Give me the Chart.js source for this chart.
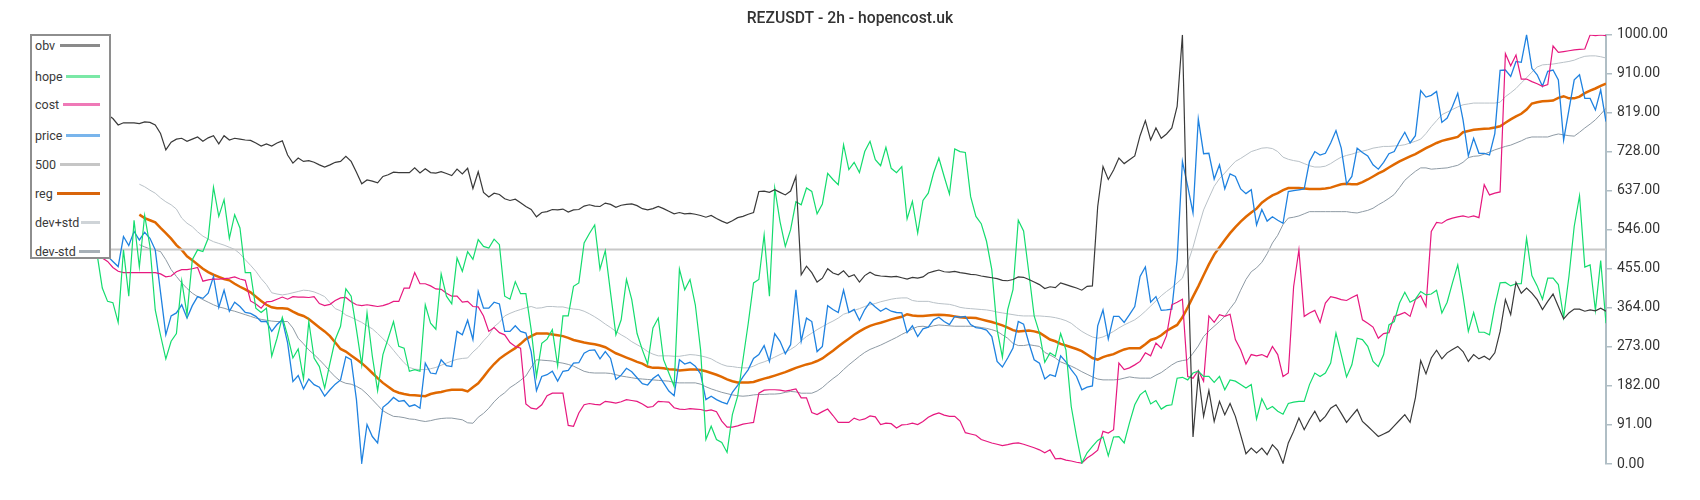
<!DOCTYPE html>
<html>
<head>
<meta charset="utf-8">
<title>REZUSDT - 2h - hopencost.uk</title>
<script src="https://cdn.jsdelivr.net/npm/chart.js@4.4.0/dist/chart.umd.min.js"></script>
<style>
  html, body { margin: 0; padding: 0; background: #fff; }
  #wrap { position: relative; width: 1700px; height: 500px; }
  #legend {
    position: absolute; left: 30px; top: 34px; width: 77px; height: 221px;
    border: 2px solid #8e8e8e; background: #fff;
    font: 12.5px Roboto, "Noto Sans", sans-serif; color: #3a3a3a;
  }
  #legend .row { position: absolute; left: 3px; right: 9px; height: 16px; display: flex; align-items: center; }
  #legend .swatch { margin-left: auto; height: 3px; }
</style>
</head>
<body>
<div id="wrap">
  <canvas id="chart" width="1700" height="500"></canvas>
  <div id="legend"></div>
</div>
<script>
const titleText = "REZUSDT - 2h - hopencost.uk";
const seriesNames = ["obv", "hope", "cost", "price", "500", "reg", "dev+std", "dev-std"];
const pointCount = 286;
const bandStart = 8; // reg and the two dev lines begin later
const levelValue = 500;
const yTickValues = [0, 91, 182, 273, 364, 455, 546, 637, 728, 819, 910, 1000];

const obvValues = [830, 825, 814, 805, 790, 795, 795, 795, 793, 797,
  796, 790, 770, 732, 750, 757, 759, 752, 757, 762,
  752, 760, 765, 746, 765, 755, 759, 757, 755, 754,
  748, 741, 746, 741, 748, 753, 720, 701, 713, 705,
  707, 703, 697, 692, 697, 703, 705, 717, 705, 680,
  653, 662, 659, 655, 670, 674, 680, 679, 679, 679,
  690, 678, 688, 679, 678, 681, 677, 672, 687, 676,
  689, 642, 681, 633, 622, 631, 628, 618, 614, 617,
  609, 600, 593, 576, 586, 588, 593, 592, 594, 587,
  592, 593, 601, 604, 601, 600, 608, 605, 598, 603,
  605, 606, 602, 595, 592, 595, 600, 595, 589, 583,
  586, 583, 584, 582, 579, 575, 579, 572, 566, 561,
  567, 574, 577, 582, 586, 635, 636, 633, 639, 633,
  627, 636, 670, 441, 461, 446, 424, 433, 455, 445,
  441, 450, 436, 441, 424, 439, 447, 440, 438, 437,
  436, 437, 434, 431, 435, 433, 436, 445, 449, 452,
  448, 447, 449, 446, 444, 442, 441, 438, 436, 434,
  432, 428, 427, 430, 436, 435, 430, 424, 418, 409,
  413, 411, 422, 418, 414, 410, 405, 414, 415, 600,
  693, 663, 685, 713, 700, 709, 718, 765, 800, 755,
  783, 759, 769, 783, 833, 1000, 480, 63, 208, 111,
  171, 99, 146, 115, 141, 111, 68, 24, 37, 26,
  37, 22, 45, 32, 2, 49, 76, 107, 80, 103,
  123, 99, 111, 130, 138, 118, 97, 112, 127, 99,
  88, 76, 64, 70, 76, 89, 102, 115, 97, 154,
  241, 210, 247, 265, 245, 259, 267, 274, 262, 239,
  255, 245, 251, 243, 259, 309, 383, 348, 423, 398,
  410, 398, 383, 360, 379, 396, 367, 338, 352, 361,
  361, 356, 359, 357, 363, 356];

const hopeValues = [490, 410, 379, 376, 330, 499, 391, 568, 459, 579,
  507, 359, 300, 245, 286, 304, 427, 348, 476, 499,
  495, 526, 645, 577, 616, 526, 581, 550, 446, 446,
  363, 353, 363, 251, 293, 342, 299, 247, 268, 198,
  332, 247, 227, 177, 235, 290, 321, 408, 391, 313,
  231, 352, 251, 171, 255, 293, 332, 274, 270, 216,
  220, 216, 371, 328, 314, 443, 391, 373, 480, 449,
  495, 477, 523, 507, 503, 524, 511, 391, 384, 425,
  397, 397, 313, 204, 281, 291, 313, 229, 345, 345,
  414, 422, 515, 537, 557, 454, 497, 398, 301, 336,
  430, 383, 304, 266, 233, 317, 340, 243, 212, 181,
  454, 406, 430, 371, 266, 57, 88, 57, 50, 27,
  115, 158, 243, 328, 422, 430, 534, 391, 643, 565,
  507, 546, 611, 604, 643, 635, 583, 606, 677, 663,
  651, 744, 686, 703, 679, 728, 752, 709, 695, 738,
  689, 679, 693, 571, 612, 538, 614, 631, 678, 713,
  670, 629, 734, 728, 726, 623, 577, 560, 519, 453,
  313, 249, 360, 406, 568, 543, 445, 345, 305, 237,
  259, 251, 304, 266, 134, 64, 2, 26, 41, 55,
  63, 19, 63, 64, 49, 96, 138, 161, 171, 140,
  148, 128, 136, 138, 200, 202, 196, 212, 216, 204,
  204, 190, 204, 173, 196, 193, 185, 177, 185, 105,
  152, 127, 134, 123, 116, 141, 144, 146, 146, 185,
  212, 204, 212, 235, 305, 255, 203, 231, 293, 290,
  274, 239, 227, 255, 324, 332, 375, 400, 377, 384,
  402, 394, 396, 405, 352, 377, 422, 464, 391, 309,
  353, 307, 307, 301, 368, 422, 423, 415, 420, 420,
  526, 439, 415, 384, 433, 433, 418, 342, 437, 554,
  625, 459, 464, 358, 474, 328];

const costValues = [495, 480, 472, 458, 449, 446, 446, 446, 446, 446,
  446, 446, 443, 436, 438, 448, 453, 453, 455, 458,
  426, 429, 431, 431, 432, 433, 436, 431, 428, 380,
  373, 363, 378, 379, 384, 389, 384, 390, 389, 389,
  388, 390, 374, 369, 372, 381, 387, 388, 378, 371,
  369, 371, 369, 367, 369, 373, 379, 379, 410, 410,
  446, 420, 420, 415, 408, 407, 398, 391, 391, 377,
  379, 367, 366, 345, 309, 318, 306, 301, 283, 274,
  270, 140, 130, 128, 138, 159, 165, 165, 165, 90,
  88, 119, 138, 141, 139, 138, 146, 144, 142, 145,
  150, 148, 146, 140, 132, 134, 146, 145, 144, 131,
  128, 127, 129, 128, 127, 124, 126, 122, 100, 86,
  86, 89, 93, 95, 97, 165, 172, 173, 173, 172,
  170, 172, 175, 154, 154, 120, 115, 122, 128, 113,
  97, 97, 97, 107, 102, 105, 112, 110, 92, 95,
  94, 84, 91, 92, 95, 92, 99, 109, 115, 119,
  114, 111, 111, 100, 73, 70, 67, 57, 53, 49,
  46, 43, 45, 48, 49, 46, 42, 38, 33, 26,
  33, 12, 13, 9, 7, 4, 2, 14, 22, 32,
  76, 72, 80, 235, 220, 224, 231, 239, 259, 252,
  282, 270, 299, 371, 377, 384, 204, 200, 218, 193,
  345, 330, 348, 344, 349, 290, 266, 233, 255, 252,
  255, 249, 274, 255, 204, 212, 413, 499, 344, 352,
  358, 330, 375, 390, 387, 383, 381, 388, 394, 336,
  328, 319, 293, 304, 306, 344, 348, 353, 344, 383,
  392, 367, 542, 563, 561, 569, 573, 576, 578, 575,
  578, 574, 651, 627, 631, 634, 956, 928, 953, 897,
  897, 891, 886, 880, 884, 974, 959, 961, 963, 965,
  966, 967, 1000, 998, 1000, 998];

const priceValues = [500, 495, 484, 472, 460, 530, 509, 542, 522, 540,
  526, 499, 400, 301, 345, 352, 371, 340, 369, 390,
  386, 398, 437, 365, 405, 356, 377, 367, 353, 351,
  344, 332, 332, 309, 325, 336, 282, 192, 206, 175,
  198, 185, 179, 158, 173, 186, 196, 250, 243, 150,
  3, 92, 64, 49, 132, 142, 155, 146, 148, 134,
  138, 130, 235, 212, 210, 243, 229, 227, 309, 301,
  335, 290, 402, 363, 363, 377, 373, 309, 309, 322,
  309, 305, 262, 171, 204, 208, 216, 193, 216, 218,
  235, 236, 258, 265, 266, 245, 262, 246, 197, 207,
  223, 215, 201, 187, 184, 199, 208, 189, 170, 159,
  243, 233, 237, 228, 210, 150, 158, 150, 144, 140,
  167, 183, 203, 220, 246, 255, 276, 239, 304, 286,
  257, 278, 406, 286, 340, 332, 262, 274, 369, 360,
  353, 405, 353, 360, 335, 360, 377, 366, 356, 363,
  356, 353, 352, 306, 322, 297, 315, 319, 336, 342,
  332, 325, 344, 342, 344, 325, 318, 316, 312, 297,
  239, 226, 247, 270, 332, 326, 282, 243, 235, 198,
  208, 204, 252, 238, 220, 204, 173, 179, 182, 322,
  359, 291, 344, 344, 330, 348, 367, 437, 459, 377,
  390, 358, 359, 361, 476, 705, 647, 585, 804, 723,
  724, 664, 697, 641, 676, 670, 641, 630, 639, 557,
  593, 566, 576, 568, 561, 635, 637, 639, 641, 705,
  728, 720, 724, 748, 777, 736, 653, 670, 736, 726,
  718, 697, 687, 703, 723, 728, 752, 773, 748, 765,
  870, 855, 859, 868, 796, 806, 833, 864, 802, 718,
  759, 724, 724, 720, 770, 917, 918, 903, 938, 936,
  1000, 922, 907, 880, 915, 918, 895, 755, 825, 895,
  907, 852, 852, 825, 872, 798];

// these three start at bandStart
const regValues = [581, 573,
  568, 563, 550, 538, 525, 510, 499, 484, 475, 465,
  455, 447, 441, 436, 431, 428, 420, 413, 407, 400,
  390, 380, 371, 365, 363, 363, 362, 355, 349, 345,
  338, 328, 318, 309, 298, 283, 268, 262, 253, 244,
  235, 224, 212, 200, 189, 180, 171, 166, 163, 161,
  160, 159, 158, 163, 166, 168, 171, 173, 173, 173,
  169, 179, 188, 203, 219, 233, 245, 254, 262, 270,
  280, 291, 298, 304, 304, 304, 302, 300, 298, 294,
  289, 286, 283, 281, 279, 276, 272, 265, 258, 253,
  248, 243, 238, 234, 227, 224, 224, 223, 221, 220,
  218, 219, 220, 220, 219, 216, 212, 208, 203, 197,
  193, 190, 190, 190, 191, 195, 199, 202, 206, 210,
  214, 219, 224, 228, 232, 235, 240, 246, 255, 264,
  274, 283, 292, 301, 309, 316, 322, 326, 329, 333,
  337, 340, 343, 349, 346, 345, 345, 346, 347, 348,
  347, 346, 344, 342, 341, 341, 340, 337, 334, 331,
  327, 323, 318, 312, 309, 310, 311, 309, 306, 298,
  290, 286, 280, 276, 272, 268, 263, 255, 247, 243,
  249, 253, 256, 262, 267, 270, 270, 270, 279, 289,
  293, 300, 310, 317, 324, 342, 365, 390, 414, 440,
  465, 488, 505, 522, 538, 552, 565, 576, 586, 595,
  609, 618, 626, 631, 638, 643, 643, 643, 642, 641,
  641, 641, 642, 644, 648, 652, 653, 652, 652, 657,
  663, 670, 677, 683, 691, 698, 705, 711, 717, 722,
  729, 736, 742, 748, 753, 756, 759, 762, 773, 776,
  779, 780, 781, 782, 784, 787, 795, 803, 810, 816,
  826, 840, 843, 845, 846, 847, 853, 857, 852, 852,
  856, 864, 870, 875, 881, 886];

const devUpperValues = [652, 646,
  638, 631, 620, 611, 604, 594, 573, 561, 553, 541,
  531, 524, 518, 514, 510, 505, 500, 490, 476, 463,
  449, 432, 418, 399, 396, 394, 396, 399, 402, 405,
  404, 401, 396, 390, 376, 362, 357, 347, 342, 336,
  330, 322, 315, 304, 292, 280, 265, 250, 236, 225,
  221, 220, 220, 222, 225, 230, 235, 240, 244, 246,
  247, 261, 272, 287, 300, 320, 330, 345, 351, 356,
  360, 364, 367, 363, 364, 367, 367, 366, 366, 363,
  361, 360, 356, 350, 343, 335, 326, 318, 309, 301,
  294, 285, 278, 271, 262, 256, 252, 252, 252, 251,
  251, 253, 255, 254, 252, 249, 245, 238, 232, 228,
  227, 225, 224, 224, 228, 234, 238, 243, 249, 255,
  261, 267, 275, 287, 297, 305, 313, 320, 327, 333,
  340, 349, 353, 358, 362, 367, 371, 374, 378, 381,
  384, 386, 387, 387, 381, 379, 379, 379, 376, 374,
  373, 372, 369, 365, 363, 362, 361, 360, 359, 357,
  354, 352, 350, 348, 346, 345, 345, 345, 345, 344,
  343, 341, 338, 334, 328, 318, 309, 302, 296, 293,
  296, 302, 309, 317, 324, 330, 336, 345, 356, 368,
  380, 392, 402, 411, 422, 433, 468, 505, 550, 592,
  620, 647, 665, 678, 692, 705, 712, 720, 728, 732,
  736, 737, 735, 728, 715, 710, 707, 705, 700, 695,
  692, 692, 694, 700, 708, 715, 719, 722, 726, 729,
  732, 736, 738, 740, 740, 741, 742, 744, 748, 752,
  757, 770, 786, 800, 814, 820, 826, 832, 837, 839,
  841, 841, 841, 841, 841, 843, 856, 865, 875, 888,
  900, 913, 925, 930, 931, 932, 934, 936, 938, 941,
  946, 950, 951, 951, 949, 946];

const devLowerValues = [511, 506,
  501, 499, 495, 476, 453, 437, 422, 409, 398, 390,
  383, 377, 371, 366, 363, 359, 356, 352, 348, 344,
  340, 337, 335, 333, 332, 332, 332, 317, 293, 280,
  266, 255, 243, 230, 216, 203, 193, 188, 186, 181,
  174, 163, 150, 137, 124, 117, 111, 110, 108, 105,
  104, 101, 99, 101, 104, 106, 107, 107, 105, 103,
  96, 95, 109, 118, 130, 145, 157, 166, 178, 186,
  195, 205, 225, 243, 242, 241, 240, 237, 235, 232,
  228, 222, 216, 213, 212, 212, 212, 211, 208, 205,
  203, 201, 199, 198, 197, 196, 195, 194, 193, 190,
  189, 189, 189, 189, 186, 180, 175, 171, 167, 164,
  161, 159, 158, 159, 161, 162, 162, 163, 163, 164,
  167, 169, 168, 165, 165, 165, 170, 178, 189, 199,
  208, 220, 231, 241, 251, 260, 267, 272, 277, 283,
  289, 295, 302, 308, 315, 320, 321, 319, 322, 324,
  323, 322, 321, 321, 321, 321, 320, 318, 316, 313,
  309, 301, 293, 281, 276, 276, 278, 276, 274, 260,
  254, 247, 238, 233, 228, 222, 215, 209, 203, 198,
  196, 196, 196, 197, 200, 203, 201, 200, 200, 200,
  207, 213, 222, 231, 238, 241, 243, 258, 275, 297,
  310, 321, 332, 344, 362, 378, 405, 430, 448, 457,
  470, 490, 515, 533, 558, 573, 575, 578, 583, 588,
  588, 588, 588, 588, 588, 588, 588, 586, 585, 588,
  591, 596, 604, 611, 619, 628, 644, 661, 672, 682,
  690, 690, 687, 688, 689, 690, 693, 696, 703, 714,
  717, 718, 722, 727, 732, 736, 740, 743, 748, 753,
  759, 762, 762, 762, 762, 766, 769, 767, 765, 764,
  773, 783, 792, 802, 815, 829];

// line colours on the chart, and the paler ones shown in the legend box
const lineColors = ["#3a3a3a", "#14dc6e", "#e6187f", "#1f82e0", "#c8c8c8", "#e06800", "#b9c1c7", "#8e9aa4"];
const lineWidths = [1.2, 1.2, 1.2, 1.3, 2, 2.5, 1, 1];
const legendColors = ["#8a8a8a", "#7ae8a6", "#ef79b7", "#79b5ec", "#c6c6c6", "#d9650b", "#cfd4d8", "#a7b0b7"];
const legendSwatchWidths = [40, 34, 37, 34, 40, 43, 19, 21];
const legendRowTops = [1, 32, 60, 91, 120, 149, 178, 207];

const toPoints = (values, start = 0) => values.map((v, k) => ({ x: start + k, y: v }));

const seriesData = [
  toPoints(obvValues),
  toPoints(hopeValues),
  toPoints(costValues),
  toPoints(priceValues),
  [{ x: 0, y: levelValue }, { x: pointCount - 1, y: levelValue }],
  toPoints(regValues, bandStart),
  toPoints(devUpperValues, bandStart),
  toPoints(devLowerValues, bandStart)
];

const datasets = seriesNames.map((name, i) => ({
  label: name,
  data: seriesData[i],
  yAxisID: "y",
  borderColor: lineColors[i],
  borderWidth: lineWidths[i],
  pointRadius: 0,
  tension: 0,
  fill: false
}));

// Legend box drawn over the top-left corner of the plot
const legendBox = document.getElementById("legend");
seriesNames.forEach((name, i) => {
  const row = document.createElement("div");
  row.className = "row";
  row.style.top = legendRowTops[i] + "px";
  const text = document.createElement("span");
  text.textContent = name;
  const swatch = document.createElement("span");
  swatch.className = "swatch";
  swatch.style.width = legendSwatchWidths[i] + "px";
  swatch.style.background = legendColors[i];
  row.appendChild(text);
  row.appendChild(swatch);
  legendBox.appendChild(row);
});

new Chart(document.getElementById("chart").getContext("2d"), {
  type: "line",
  data: { datasets: datasets },
  options: {
    responsive: false,
    animation: false,
    events: [],
    layout: { padding: { left: 0, right: 0, top: 0, bottom: 36 } },
    plugins: {
      legend: { display: false },
      tooltip: { enabled: false },
      title: {
        display: true,
        text: titleText,
        color: "#333",
        font: { family: "Roboto", size: 15.7, weight: "500" },
        padding: { top: 10, bottom: 6 }
      }
    },
    scales: {
      x: { type: "linear", display: false, min: 0, max: pointCount - 1 },
      // empty left gutter so the plot starts where the original does
      spacer: {
        position: "left",
        min: 0,
        max: 1000,
        afterFit: (scale) => { scale.width = 97; },
        ticks: { display: false },
        grid: { display: false },
        border: { display: false }
      },
      y: {
        position: "right",
        min: 0,
        max: 1000,
        afterBuildTicks: (scale) => { scale.ticks = yTickValues.map(v => ({ value: v })); },
        afterFit: (scale) => { scale.width = 94; },
        ticks: {
          color: "#333",
          font: { family: "Roboto", size: 14 },
          padding: 5,
          callback: (v) => Number(v).toFixed(2)
        },
        grid: { drawOnChartArea: false, tickLength: 6, color: "#b0bec5", lineWidth: 1.5 },
        border: { color: "#b0bec5", width: 2 }
      }
    }
  }
});
</script>
</body>
</html>
